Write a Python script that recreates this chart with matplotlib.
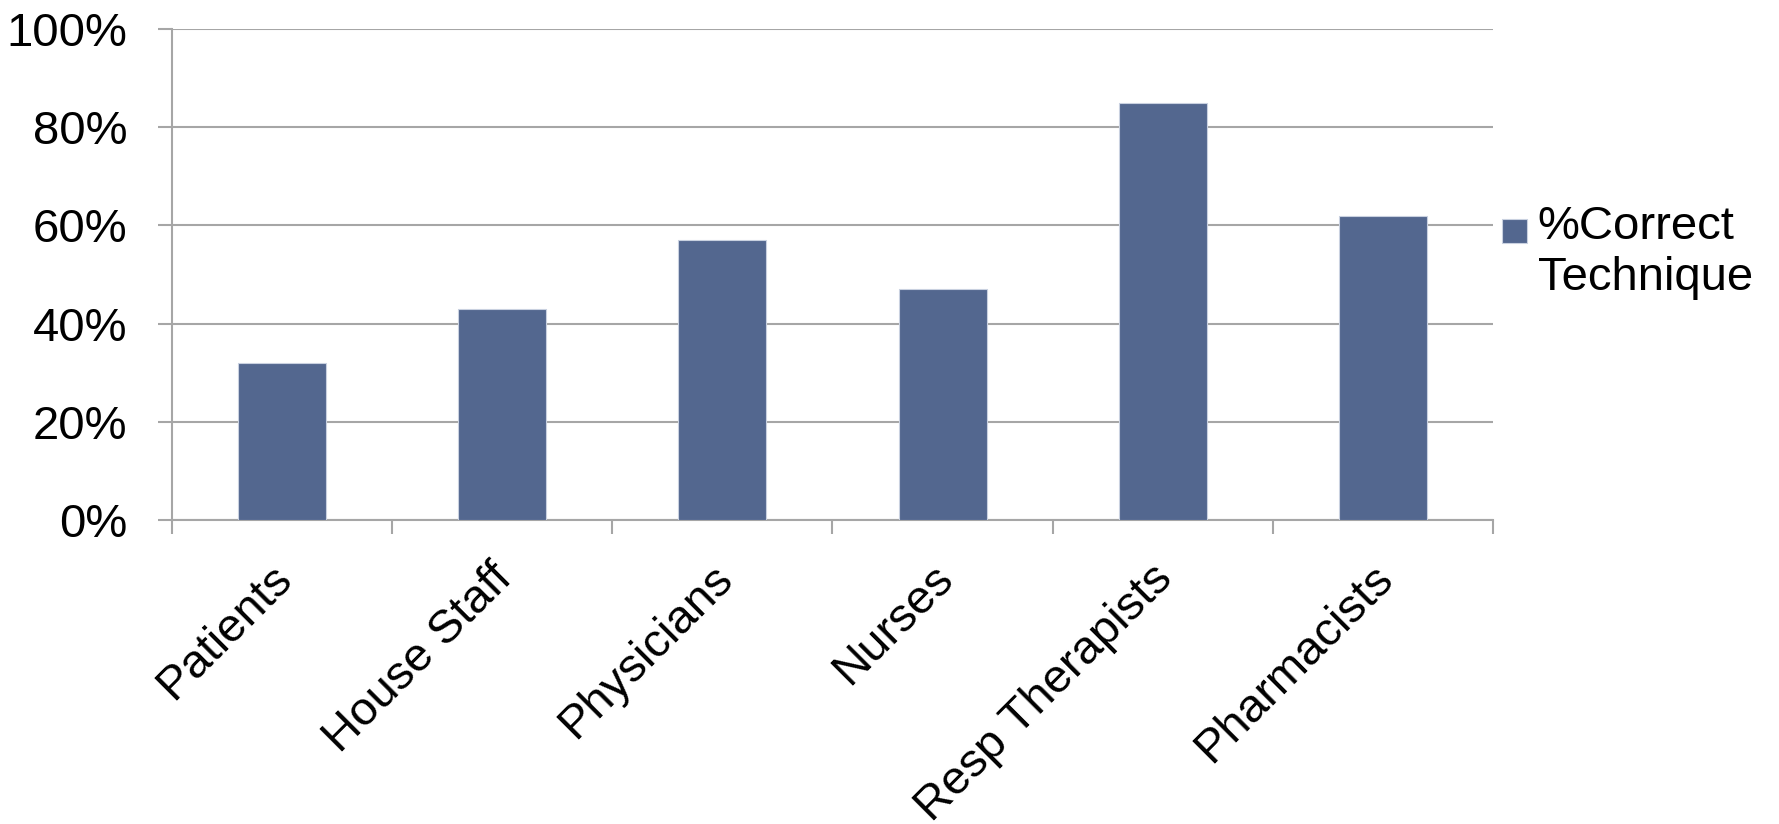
import matplotlib.pyplot as plt
from matplotlib.patches import Rectangle
from matplotlib.legend_handler import HandlerPatch
from matplotlib.ticker import FixedLocator, PercentFormatter
from matplotlib.transforms import ScaledTranslation

plt.rcParams['font.family'] = ['Liberation Sans', 'DejaVu Sans']

groups = ["Patients", "House Staff", "Physicians", "Nurses",
          "Resp Therapists", "Pharmacists"]
correct = [32, 43, 57, 47, 85, 62]
series_name = "%Correct\nTechnique"

bar_color = "#53678F"
grid_color = "#A6A6A6"

fig = plt.figure(figsize=(17.79, 8.24), dpi=100)
ax = fig.add_axes([0.0967, 0.3689, 0.7425, 0.5959])

x = range(len(groups))
bars = ax.bar(x, correct, width=0.4, color=bar_color,
              edgecolor="#C9D1E0", linewidth=0.8, zorder=3)

ax.set_xlim(-0.5, len(groups) - 0.5)
ax.set_ylim(0, 100)
ax.set_yticks(range(0, 101, 20))
ax.yaxis.set_major_formatter(PercentFormatter(decimals=0))
ax.yaxis.grid(True, color=grid_color, linewidth=1.5, zorder=0)

# category labels at centres, tick marks at the boundaries
ax.set_xticks(list(x))
ax.set_xticklabels(groups, rotation=45, ha="right", rotation_mode="anchor")
ax.xaxis.set_minor_locator(FixedLocator([i - 0.5 for i in range(len(groups) + 1)]))
ax.tick_params(axis="x", which="major", length=0, pad=26, labelsize=34)
ax.tick_params(axis="x", which="minor", length=10, width=1.5,
               color=grid_color, direction="out")
ax.tick_params(axis="y", length=10, width=1.5, color=grid_color,
               pad=22, labelsize=34)

# nudge the slanted labels a little to the left
shift = ScaledTranslation(-0.12, 0, fig.dpi_scale_trans)
for lab in ax.get_xticklabels():
    lab.set_transform(lab.get_transform() + shift)

for side in ("top", "right"):
    ax.spines[side].set_visible(False)
for side in ("left", "bottom"):
    ax.spines[side].set_color(grid_color)
    ax.spines[side].set_linewidth(1.5)


def square_on_first_line(legend, orig_handle, xdescent, ydescent,
                         width, height, fontsize):
    side = fontsize * 0.52
    return Rectangle((-xdescent, -ydescent + height * 0.5 + fontsize * 0.2),
                     side, side)


handle = bars.patches[0]
ax.legend(handles=[handle], labels=[series_name], loc="center left",
          bbox_to_anchor=(1.0, 0.545), frameon=False, fontsize=34,
          borderaxespad=0.2, borderpad=0.0,
          handlelength=0.6, handletextpad=0.15, labelspacing=0.0,
          handler_map={handle: HandlerPatch(patch_func=square_on_first_line)})

fig.savefig("out.png", dpi=100)
